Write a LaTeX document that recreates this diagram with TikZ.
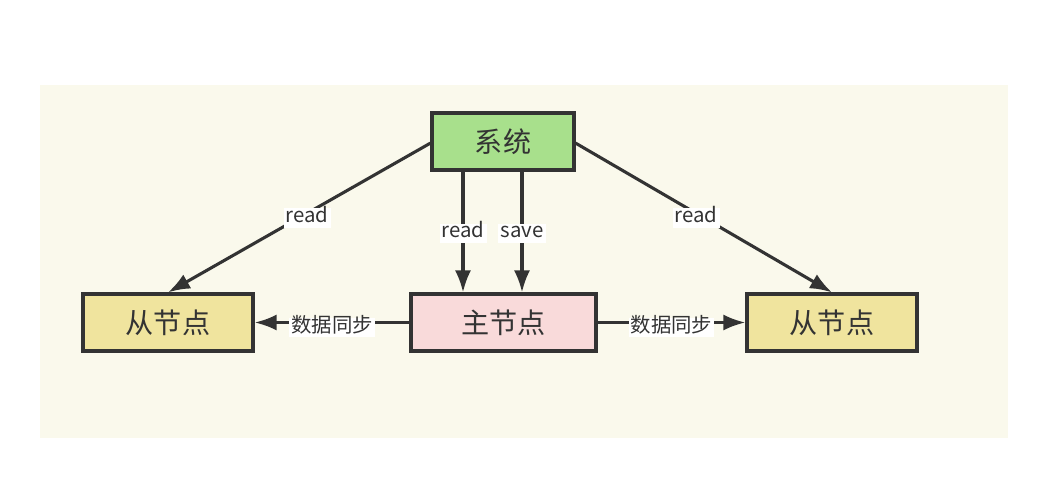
\documentclass[tikz,border=0pt]{standalone}
\usepackage{fontspec}
\setmainfont{Noto Sans CJK SC}
\usetikzlibrary{positioning}
\usetikzlibrary{arrows.meta}

\definecolor{bgcream}{RGB}{250,249,236}
\definecolor{sysgreen}{RGB}{168,224,140}
\definecolor{mainpink}{RGB}{249,218,218}
\definecolor{slaveyellow}{RGB}{240,228,158}
\definecolor{inkgray}{RGB}{51,51,51}

\begin{document}
\begin{tikzpicture}[x=0.025cm, y=-0.025cm,
  box/.style={draw=inkgray, line width=2.2pt, text=inkgray, minimum height=1.425cm,
    inner sep=0pt, font=\fontsize{20}{23}\selectfont},
  lbl/.style={fill=white, text=inkgray, inner sep=1.5pt, text height=1.6ex, text depth=0.4ex,
    yshift=-3.5pt, font=\fontsize{14.5}{17}\selectfont},
  link/.style={draw=inkgray, line width=2.2pt, -{Latex[length=5.5mm,width=4mm]}}]
  \useasboundingbox (0,0) rectangle (1049,500);
  \fill[bgcream] (40,85) rectangle (1008,438);

  \node[box, fill=sysgreen, minimum width=3.55cm] (sys) at (503,141.5) {系统};
  \node[box, fill=mainpink, minimum width=4.625cm] (master) at (503.5,322.5) {主节点};
  \node[box, fill=slaveyellow, minimum width=4.25cm] (slaveL) at (168,322.5) {从节点};
  \node[box, fill=slaveyellow, minimum width=4.25cm] (slaveR) at (832,322.5) {从节点};

  \draw[link] ([yshift=-0.04cm]sys.west) -- (slaveL.north)
    node[lbl, pos=0.47] {read};
  \draw[link] ([yshift=-0.04cm]sys.east) -- (slaveR.north)
    node[lbl, pos=0.47] {read};
  \draw[link] (sys.south -| 463,0) -- (master.north -| 463,0)
    node[lbl, pos=0.47] {read};
  \draw[link] (sys.south -| 522,0) -- (master.north -| 522,0)
    node[lbl, pos=0.47] {save};

  \draw[link] (master.west) -- (slaveL.east) node[lbl, midway] {数据同步};
  \draw[link] (master.east) -- (slaveR.west) node[lbl, midway] {数据同步};
\end{tikzpicture}
\end{document}
